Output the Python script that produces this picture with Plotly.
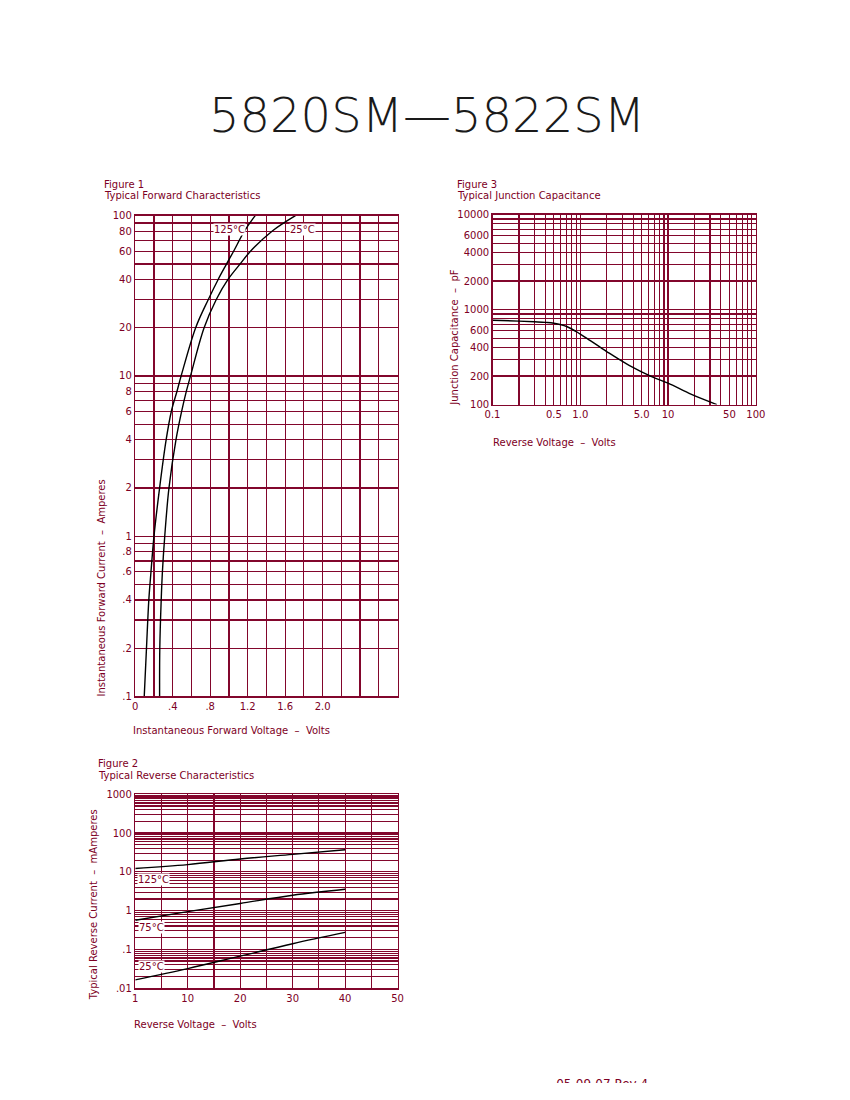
import plotly.graph_objects as go

W, H = 850, 1100
MAROON = "#7d0024"
GRID = "#82062c"
FONT = "DejaVu Sans"

# Figure 1 - typical forward characteristics
fwd_current = [0.1, 0.2, 0.4, 0.6, 1, 2, 4, 6, 8, 10, 20, 30, 40, 50, 60, 80, 100]
vf_125c = [0.096, 0.12, 0.145, 0.168, 0.20, 0.26, 0.33, 0.385, 0.445, 0.49, 0.645,
           0.78, 0.885, 0.975, 1.05, 1.165, 1.28]
vf_25c = [0.26, 0.262, 0.277, 0.29, 0.315, 0.36, 0.435, 0.495, 0.545, 0.59, 0.735,
          0.865, 0.99, 1.12, 1.23, 1.46, 1.71]
f1_xgrid = [0, 0.2, 0.4, 0.6, 0.8, 1.0, 1.2, 1.4, 1.6, 1.8, 2.0, 2.2, 2.4, 2.6, 2.8]
f1_xtext = ["0", "", ".4", "", ".8", "", "1.2", "", "1.6", "", "2.0", "", "", "", ""]
f1_ygrid = [0.1, 0.2, 0.3, 0.4, 0.5, 0.6, 0.7, 0.8, 0.9, 1, 2, 3, 4, 5, 6, 7, 8, 9,
            10, 20, 30, 40, 50, 60, 70, 80, 90, 100]
f1_ytext = [".1", ".2", "", ".4", "", ".6", "", ".8", "", "1", "2", "", "4", "", "6", "",
            "8", "", "10", "20", "", "40", "", "60", "", "80", "", "100"]

# Figure 2 - typical reverse characteristics (left edge of the axis is labelled 1 V)
rev_volts = [0, 10, 20, 30, 40]
ir_125c = [12.2, 15.4, 21.5, 28.3, 37.3]
ir_75c = [0.565, 0.94, 1.53, 2.5, 3.56]
ir_25c = [0.0163, 0.032, 0.067, 0.14, 0.274]
f2_xgrid = [0, 5, 10, 15, 20, 25, 30, 35, 40, 45, 50]
f2_xtext = ["1", "", "10", "", "20", "", "30", "", "40", "", "50"]
f2_ylabels = {0.01: ".01", 0.1: ".1", 1: "1", 10: "10", 100: "100", 1000: "1000"}

# Figure 3 - typical junction capacitance
cap_volts = [0.1, 0.2, 0.3, 0.4, 0.5, 0.7, 1.0, 1.3, 2.0, 3.6, 6.6, 10, 18.5, 36]
cap_pf = [774, 757, 745, 735, 720, 665, 553, 472, 362, 259, 196, 168, 128, 100]
f3_xlabels = {0.1: "0.1", 0.5: "0.5", 1: "1.0", 5: "5.0", 10: "10", 50: "50", 100: "100"}
f3_ylabels = {100: "100", 200: "200", 400: "400", 600: "600", 1000: "1000",
              2000: "2000", 4000: "4000", 6000: "6000", 10000: "10000"}


def log_grid(lo, n_decades, labels):
    # every 1..9 line of each decade, labelled only where the chart has text
    vals, text = [], []
    for d in range(n_decades):
        base = lo * 10 ** d
        for k in range(1, 10):
            vals.append(round(base * k, 6))
    vals.append(round(lo * 10 ** n_decades, 6))
    for v in vals:
        key = int(v) if v >= 1 and v == int(v) else v
        text.append(labels.get(key, labels.get(v, "")))
    return vals, text


f2_ygrid, f2_ytext = log_grid(0.01, 5, f2_ylabels)
f3_xgrid, f3_xtext = log_grid(0.1, 3, f3_xlabels)
f3_ygrid, f3_ytext = log_grid(100, 2, f3_ylabels)


def px(x0, x1):
    return [x0 / W, x1 / W]


def py(y0, y1):
    return [1 - y1 / H, 1 - y0 / H]


def axis(domain, anchor, vals, text, **kw):
    return dict(domain=domain, anchor=anchor, tickmode="array", tickvals=vals,
                ticktext=text, showgrid=True, gridcolor=GRID, gridwidth=1.2,
                showline=True, linecolor=GRID, linewidth=1.4, mirror=True,
                zeroline=False, ticks="", fixedrange=True,
                tickfont=dict(family=FONT, size=10, color=MAROON), **kw)


line = dict(color="black", width=1.4, shape="spline", smoothing=1.0)
fig = go.Figure()
fig.add_trace(go.Scatter(x=vf_125c, y=fwd_current, mode="lines", line=line, xaxis="x", yaxis="y"))
fig.add_trace(go.Scatter(x=vf_25c, y=fwd_current, mode="lines", line=line, xaxis="x", yaxis="y"))
for series in (ir_125c, ir_75c, ir_25c):
    fig.add_trace(go.Scatter(x=rev_volts, y=series, mode="lines", line=line, xaxis="x2", yaxis="y2"))
fig.add_trace(go.Scatter(x=cap_volts, y=cap_pf, mode="lines", line=line, xaxis="x3", yaxis="y3"))

# footer text, cut off along its lower edge like the scanned page
fig.add_trace(go.Scatter(x=[0], y=[-0.2], mode="text", text=["05-09-07 Rev 4"],
                         textposition="middle right", cliponaxis=True,
                         textfont=dict(family=FONT, size=12, color=MAROON),
                         xaxis="x4", yaxis="y4"))

hidden = dict(visible=False, fixedrange=True, range=[0, 1])
fig.update_layout(
    width=W, height=H, margin=dict(l=0, r=0, t=0, b=0),
    paper_bgcolor="white", plot_bgcolor="white", showlegend=False,
    xaxis=axis(px(130, 398), "y", f1_xgrid, f1_xtext, range=[0, 2.8]),
    yaxis=axis(py(212, 698), "x", f1_ygrid, f1_ytext, type="log", range=[-1, 2]),
    xaxis2=axis(px(130, 398), "y2", f2_xgrid, f2_xtext, range=[0, 50]),
    yaxis2=axis(py(797, 993), "x2", f2_ygrid, f2_ytext, type="log", range=[-2, 3]),
    xaxis3=axis(px(495, 764), "y3", f3_xgrid, f3_xtext, type="log", range=[-1, 2]),
    yaxis3=axis(py(211, 403), "x3", f3_ygrid, f3_ytext, type="log", range=[2, 4]),
    xaxis4=dict(domain=px(560, 720), anchor="y4", **hidden),
    yaxis4=dict(domain=py(1080, 1089), anchor="x4", **hidden),
)


def note(text, x, y, size=10, xanchor="left", angle=0, bg=None, color=MAROON,
         weight=None):
    fig.add_annotation(text=text, x=x / W, y=1 - y / H, xref="paper", yref="paper",
                       xanchor=xanchor, yanchor="middle", showarrow=False,
                       textangle=angle, bgcolor=bg, borderpad=0,
                       font=dict(family=FONT, size=size, color=color, weight=weight))


note("5820SM\u20145822SM", 428, 110, size=48, xanchor="center", color="#1a1a1a", weight=200)

note("Figure 1", 97, 180)
note("Typical Forward Characteristics", 97, 192)
note("Instantaneous Forward Current  \u2013  Amperes", 96, 588, xanchor="center", angle=-90)
note("Instantaneous Forward Voltage  \u2013  Volts", 127, 732)
note("125\u00b0C", 226, 226, xanchor="center", bg="white")
note("25\u00b0C", 301, 226, xanchor="center", bg="white")

note("Figure 2", 91, 766)
note("Typical Reverse Characteristics", 91, 778)
note("Typical Reverse Current  \u2013  mAmperes", 87, 909, xanchor="center", angle=-90)
note("Reverse Voltage  \u2013  Volts", 128, 1030)
note("125\u00b0C", 132, 883, bg="white")
note("75\u00b0C", 133, 932, bg="white")
note("25\u00b0C", 133, 971, bg="white")

note("Figure 3", 458, 180)
note("Typical Junction Capacitance", 458, 192)
note("Junction Capacitance  \u2013  pF", 456, 335, xanchor="center", angle=-90)
note("Reverse Voltage  \u2013  Volts", 494, 441)

fig.write_html(
    "out.html",
    config={"displayModeBar": False, "staticPlot": True},
    post_script="document.body.style.margin='0';"
                "document.body.style.overflow='hidden';"
                "document.documentElement.style.overflow='hidden';"
                "var gd = document.getElementById('{plot_id}');"
                "gd.style.position='fixed'; gd.style.left='0px'; gd.style.top='0px';",
)
